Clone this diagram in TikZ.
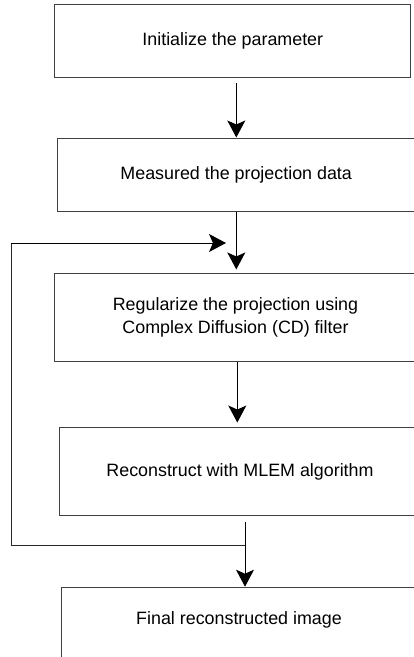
\documentclass[tikz,border=0pt]{standalone}
\usepackage{fontspec}
\setmainfont{Liberation Sans}
\usetikzlibrary{arrows.meta}
\begin{document}
\begin{tikzpicture}[x=0.75pt,y=-0.75pt,
 box/.style={draw=black!75, line width=0.75pt, inner sep=0pt, font=\fontsize{13.4pt}{17.5pt}\selectfont, align=center},
 lbl/.style={inner sep=0pt, font=\fontsize{13.4pt}{17.5pt}\selectfont, align=center},
 arr/.style={-{Stealth[length=12.75pt,width=13.5pt,inset=3pt]}, line width=0.75pt},
 loopline/.style={draw=black!85, line width=0.75pt}]
\clip (0,0) rectangle (414,657);
\fill[white] (0,0) rectangle (414,657);
\node[box, minimum width=266.8pt, minimum height=55pt] (b1) at (232.8,41.3) {Initialize the parameter};
\node[box, minimum width=268.5pt, minimum height=54.75pt] (b2) at (236.2,174.5) {Measured the projection data};
\node[box, minimum width=271.2pt, minimum height=66.3pt] (b3) at (235.5,317.5) {Regularize the projection using\\Complex Diffusion (CD) filter};
\node[box, minimum width=270.5pt, minimum height=65.7pt] (b4) at (240,471.5) {Reconstruct with MLEM algorithm};
\node[box, minimum width=266pt, minimum height=75pt, anchor=north] (b5) at (239,586.7) {};
\node[lbl] (b5t) at (239,620) {Final reconstructed image};
\coordinate (c1) at (236.3,0);
\coordinate (c3) at (237.3,0);
\coordinate (c4) at (245,0);
\coordinate (L0) at (11,243);
\coordinate (L1) at (11,545);
\coordinate (lt) at (226,243);
\draw[arr] (b1.south -| c1) ++(0,5) -- (b2.north -| c1);
\draw[arr] (b2.south -| c1) -- ([yshift=2.5pt]b3.north -| c1);
\draw[arr] (b3.south -| c3) -- ([yshift=3.5pt]b4.north -| c3);
\draw[arr] (b4.south -| c4) ++(0,5.7) -- (b5.north -| c4);
\draw[loopline] (c4 |- L1) -- (L1) -- (L0);
\draw[arr] (L0) -- (lt);
\end{tikzpicture}
\end{document}
